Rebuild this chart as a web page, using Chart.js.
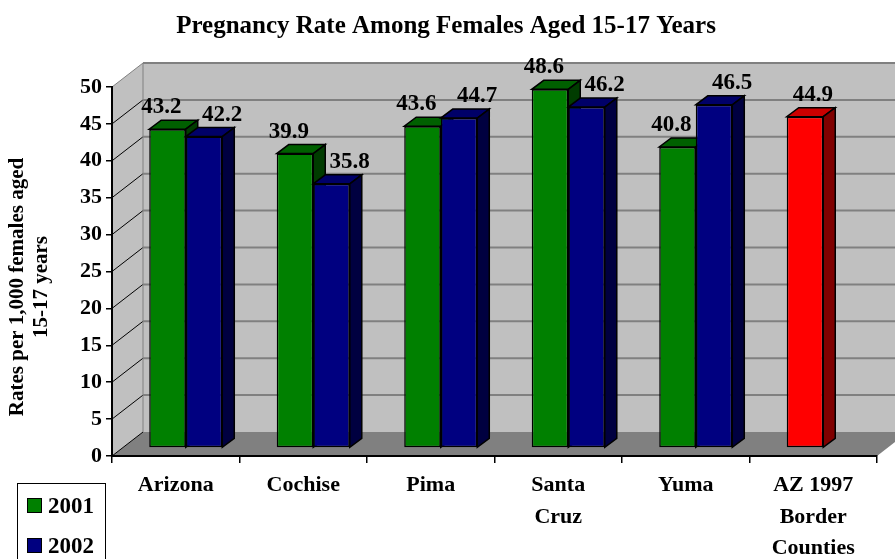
<!DOCTYPE html>
<html>
<head>
<meta charset="utf-8">
<title>Pregnancy Rate Among Females Aged 15-17 Years</title>
<script src="https://cdn.jsdelivr.net/npm/chart.js@4.4.0/dist/chart.umd.min.js"></script>
<style>
  html, body { margin: 0; padding: 0; background: #ffffff; }
  #wrap { width: 895px; height: 559px; position: relative; }
</style>
</head>
<body>
<div id="wrap"><canvas id="rateChart"></canvas></div>
<script>
// chart data
const chartTitle = 'Pregnancy Rate Among Females Aged 15-17 Years';
const yAxisTitle = ['Rates per 1,000 females aged', '15-17 years'];
const categories = [['Arizona'], ['Cochise'], ['Pima'], ['Santa', 'Cruz'], ['Yuma'], ['AZ 1997', 'Border', 'Counties']];
const seriesNames = ['2001', '2002'];
const rates2001 = [43.2, 39.9, 43.6, 48.6, 40.8, 44.9];
const rates2002 = [42.2, 35.8, 44.7, 46.2, 46.5, null];
const yMin = 0;
const yMax = 50;
const yStep = 5;

const FONT = '"Liberation Serif", "Times New Roman", serif';
const GREEN = '#008000';
const BLUE = '#000080';
const RED = '#FF0000';
// shades for the top and side faces of each bar colour
const shades = {
    [GREEN]: { top: '#006000', side: '#003c00' },
    [BLUE]: { top: '#000068', side: '#000040' },
    [RED]: { top: '#CC0000', side: '#800000' }
};

const WALL = { dx: 31, dy: -24 };   // depth of the back wall
const SHIFT = { dx: 10, dy: -8 };   // bars stand in the middle of the floor
const BAR = { dx: 12, dy: -9 };     // depth of one bar

function poly(ctx, pts, fill, stroke, lw) {
    ctx.beginPath();
    ctx.moveTo(pts[0][0], pts[0][1]);
    for (let i = 1; i < pts.length; i++) ctx.lineTo(pts[i][0], pts[i][1]);
    ctx.closePath();
    if (fill) { ctx.fillStyle = fill; ctx.fill(); }
    if (stroke) { ctx.strokeStyle = stroke; ctx.lineWidth = lw || 1; ctx.stroke(); }
}

// single bar in its category (no 2002 value) is the red one
function colour2001(ctx) {
    return rates2002[ctx.dataIndex] == null ? RED : GREEN;
}

const scene3d = {
    id: 'scene3d',
    beforeDraw(chart) {
        const { ctx, chartArea: a, scales: { y } } = chart;
        const floorY = y.getPixelForValue(yMin);
        const topY = y.getPixelForValue(yMax);
        const bl = a.left + WALL.dx;
        const br = a.right + WALL.dx;
        ctx.save();
        // left wall, back wall and floor
        poly(ctx, [[a.left, topY], [bl, topY + WALL.dy], [bl, floorY + WALL.dy], [a.left, floorY]], '#C0C0C0');
        ctx.fillStyle = '#C0C0C0';
        ctx.fillRect(bl, topY + WALL.dy, br - bl, floorY - topY);
        poly(ctx, [[a.left, floorY], [bl, floorY + WALL.dy], [br, floorY + WALL.dy], [a.right, floorY]], '#808080');
        // grid lines on the walls
        y.ticks.forEach(t => {
            const py = y.getPixelForValue(t.value);
            ctx.beginPath();
            ctx.moveTo(a.left, py);
            ctx.lineTo(bl, py + WALL.dy);
            ctx.strokeStyle = t.value === yMax ? '#808080' : '#000000';
            ctx.lineWidth = 1;
            ctx.stroke();
            if (t.value !== yMin) {
                ctx.beginPath();
                ctx.moveTo(bl, py + WALL.dy);
                ctx.lineTo(br, py + WALL.dy);
                ctx.strokeStyle = '#808080';
                ctx.lineWidth = 2;
                ctx.stroke();
            }
        });
        ctx.beginPath();
        ctx.moveTo(bl, topY + WALL.dy);
        ctx.lineTo(bl, floorY + WALL.dy);
        ctx.strokeStyle = '#808080';
        ctx.lineWidth = 1;
        ctx.stroke();
        ctx.restore();

        // chart title
        ctx.save();
        ctx.fillStyle = '#000';
        ctx.font = 'bold 25px ' + FONT;
        ctx.textAlign = 'center';
        ctx.textBaseline = 'alphabetic';
        ctx.fillText(chartTitle, 446, 33);
        // y axis title
        ctx.font = 'bold 21px ' + FONT;
        ctx.translate(30, 287);
        ctx.rotate(-Math.PI / 2);
        ctx.textBaseline = 'middle';
        ctx.fillText(yAxisTitle[0], 0, -12);
        ctx.fillText(yAxisTitle[1], 0, 12);
        ctx.restore();
    },
    // bars are drawn by hand below so they overlap in the right order
    beforeDatasetDraw() {
        return false;
    },
    afterDatasetsDraw(chart) {
        const { ctx } = chart;
        const metas = chart.data.datasets.map((d, i) => chart.getDatasetMeta(i));
        ctx.save();
        ctx.translate(SHIFT.dx, SHIFT.dy);
        categories.forEach((c, idx) => {
            metas.forEach(meta => {
                const value = chart.data.datasets[meta.index].data[idx];
                if (value == null) return;
                const el = meta.data[idx];
                el.draw(ctx);
                const p = el.getProps(['x', 'y', 'base', 'width']);
                const L = p.x - p.width / 2;
                const R = p.x + p.width / 2;
                const top = Math.min(p.y, p.base);
                const sh = shades[el.options.backgroundColor] || shades[GREEN];
                poly(ctx, [[L, top], [R, top], [R + BAR.dx, top + BAR.dy], [L + BAR.dx, top + BAR.dy]], sh.top, '#000', 1.5);
                poly(ctx, [[R, top], [R + BAR.dx, top + BAR.dy], [R + BAR.dx, p.base + BAR.dy], [R, p.base]], sh.side, '#000', 1.5);
            });
        });
        ctx.restore();

        // value labels above bars
        ctx.save();
        ctx.fillStyle = '#000';
        ctx.font = 'bold 23px ' + FONT;
        ctx.textAlign = 'center';
        ctx.textBaseline = 'alphabetic';
        metas.forEach(meta => {
            const data = chart.data.datasets[meta.index].data;
            meta.data.forEach((el, idx) => {
                if (data[idx] == null) return;
                const alone = metas.some(m => m.index !== meta.index && chart.data.datasets[m.index].data[idx] == null);
                const off = alone ? 8 : (meta.index === 0 ? -6 : 18);
                ctx.fillText(data[idx].toFixed(1), el.x + SHIFT.dx + off, el.y + SHIFT.dy - 16);
            });
        });
        ctx.restore();

        // legend box
        ctx.save();
        ctx.strokeStyle = '#000';
        ctx.lineWidth = 1;
        ctx.strokeRect(17.5, 483.5, 88, 90);
        ctx.font = 'bold 23px ' + FONT;
        ctx.textBaseline = 'alphabetic';
        ctx.textAlign = 'left';
        const legendColours = [GREEN, BLUE];
        seriesNames.forEach((name, i) => {
            const top = 498 + i * 40;
            ctx.fillStyle = legendColours[i];
            ctx.fillRect(27, top, 15, 15);
            ctx.strokeRect(27.5, top + 0.5, 14, 14);
            ctx.fillStyle = '#000';
            ctx.fillText(name, 48, top + 15);
        });
        ctx.restore();
    }
};

new Chart(document.getElementById('rateChart').getContext('2d'), {
    type: 'bar',
    data: {
        labels: categories,
        datasets: [{
            label: seriesNames[0],
            data: rates2001,
            backgroundColor: colour2001,
            borderColor: '#000',
            borderWidth: 1.5,
            borderSkipped: false
        }, {
            label: seriesNames[1],
            data: rates2002,
            backgroundColor: BLUE,
            borderColor: '#000',
            borderWidth: 1.5,
            borderSkipped: false
        }]
    },
    options: {
        responsive: true,
        maintainAspectRatio: false,
        animation: false,
        devicePixelRatio: 1,
        layout: { padding: { top: 87, right: 18, left: 0, bottom: 0 } },
        datasets: { bar: { categoryPercentage: 0.573, barPercentage: 1, clip: false } },
        plugins: {
            legend: { display: false },
            title: { display: false },
            tooltip: { enabled: false }
        },
        scales: {
            x: {
                offset: true,
                grid: { display: true, drawOnChartArea: false, drawTicks: true, tickLength: 7, color: '#000', lineWidth: 1.5, offset: true },
                border: { display: true, color: '#000', width: 2 },
                ticks: {
                    color: '#000',
                    font: { family: FONT, size: 22, weight: 'bold', lineHeight: 1.45 },
                    padding: 6,
                    maxRotation: 0,
                    autoSkip: false
                },
                afterFit(scale) { scale.height = 103; }
            },
            y: {
                min: yMin,
                max: yMax,
                ticks: {
                    stepSize: yStep,
                    color: '#000',
                    font: { family: FONT, size: 22, weight: 'bold' },
                    padding: 4
                },
                grid: { drawOnChartArea: false, drawTicks: true, tickLength: 6, color: '#000', lineWidth: 1.5 },
                border: { display: true, color: '#000', width: 2 },
                afterFit(scale) { scale.width = 112; }
            }
        }
    },
    plugins: [scene3d]
});
</script>
</body>
</html>
